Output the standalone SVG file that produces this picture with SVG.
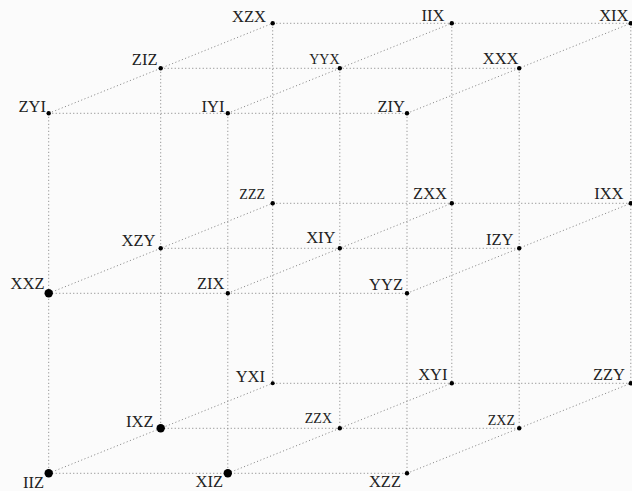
<svg xmlns="http://www.w3.org/2000/svg" width="632" height="491" viewBox="0 0 632 491">
<style>
.c{fill:none;stroke:#8a8a8a;stroke-width:1;stroke-dasharray:1.1 2.4}
.d{fill:#000}
text{font-family:"Liberation Serif","Times New Roman",serif;font-size:16.5px;fill:#222;text-anchor:end}
text.s{font-size:14px}
</style>
<rect width="632" height="491" fill="#fbfbfb"/>
<g id="connectors">
<path class="c" d="M48.7 113.3H407M48.7 293.3H407M48.7 473.3H407"/>
<path class="c" d="M160.7 68.3H519.2M160.7 248.3H519.2M160.7 428.3H519.2"/>
<path class="c" d="M272.7 23.3H630.8M272.7 203.3H630.8M272.7 383.3H630.8"/>
<path class="c" d="M48.7 113.3V473.3M227.8 113.3V473.3M407 113.3V473.3"/>
<path class="c" d="M160.7 68.3V428.3M339.8 68.3V428.3M519.2 68.3V428.3"/>
<path class="c" d="M272.7 23.3V383.3M451.8 23.3V383.3M630.8 23.3V383.3"/>
<path class="c" d="M48.7 113.3L272.7 23.3M227.8 113.3L451.8 23.3M407 113.3L630.8 23.3"/>
<path class="c" d="M48.7 293.3L272.7 203.3M227.8 293.3L451.8 203.3M407 293.3L630.8 203.3"/>
<path class="c" d="M48.7 473.3L272.7 383.3M227.8 473.3L451.8 383.3M407 473.3L630.8 383.3"/>
</g>
<g id="ZYI"><circle class="d" cx="48.7" cy="113.3" r="2.2"/><text x="46" y="111.7">ZYI</text></g>
<g id="IYI"><circle class="d" cx="227.8" cy="113.3" r="2.2"/><text x="224.5" y="111.7">IYI</text></g>
<g id="ZIY"><circle class="d" cx="407" cy="113.3" r="2.2"/><text x="405" y="111.7">ZIY</text></g>
<g id="XXZ"><circle class="d" cx="48.7" cy="293.3" r="4.2"/><text x="44.5" y="289.3">XXZ</text></g>
<g id="ZIX"><circle class="d" cx="227.8" cy="293.3" r="2.2"/><text x="224.5" y="289.3">ZIX</text></g>
<g id="YYZ"><circle class="d" cx="407" cy="293.3" r="2.2"/><text x="403" y="290">YYZ</text></g>
<g id="IIZ"><circle class="d" cx="48.7" cy="473.3" r="4.2"/><text x="44" y="488">IIZ</text></g>
<g id="XIZ"><circle class="d" cx="227.8" cy="473.3" r="4.2"/><text x="223" y="487.3">XIZ</text></g>
<g id="XZZ"><circle class="d" cx="407" cy="473.3" r="2.2"/><text x="401" y="487.3">XZZ</text></g>
<g id="ZIZ"><circle class="d" cx="160.7" cy="68.3" r="2.2"/><text x="157.5" y="65">ZIZ</text></g>
<g id="YYX"><circle class="d" cx="339.8" cy="68.3" r="2.2"/><text class="s" x="339.5" y="64">YYX</text></g>
<g id="XXX"><circle class="d" cx="519.2" cy="68.3" r="2.2"/><text x="518.5" y="64">XXX</text></g>
<g id="XZY"><circle class="d" cx="160.7" cy="248.3" r="2.2"/><text x="155.5" y="246">XZY</text></g>
<g id="XIY"><circle class="d" cx="339.8" cy="248.3" r="2.2"/><text x="335.5" y="243">XIY</text></g>
<g id="IZY"><circle class="d" cx="519.2" cy="248.3" r="2.2"/><text x="513.5" y="245">IZY</text></g>
<g id="IXZ"><circle class="d" cx="160.7" cy="428.3" r="4.2"/><text x="153.5" y="426.7">IXZ</text></g>
<g id="ZZX"><circle class="d" cx="339.8" cy="428.3" r="2.2"/><text class="s" x="332" y="423">ZZX</text></g>
<g id="ZXZ"><circle class="d" cx="519.2" cy="428.3" r="2.2"/><text class="s" x="515" y="425">ZXZ</text></g>
<g id="XZX"><circle class="d" cx="272.7" cy="23.3" r="2.2"/><text x="266" y="21.7">XZX</text></g>
<g id="IIX"><circle class="d" cx="451.8" cy="23.3" r="2.2"/><text x="444.5" y="21">IIX</text></g>
<g id="XIX"><circle class="d" cx="630.8" cy="23.3" r="2.2"/><text x="628.5" y="20.5">XIX</text></g>
<g id="ZZZ"><circle class="d" cx="272.7" cy="203.3" r="2.2"/><text class="s" x="265" y="199.3">ZZZ</text></g>
<g id="ZXX"><circle class="d" cx="451.8" cy="203.3" r="2.2"/><text x="447" y="199.3">ZXX</text></g>
<g id="IXX"><circle class="d" cx="630.8" cy="203.3" r="2.2"/><text x="623.5" y="199.3">IXX</text></g>
<g id="YXI"><circle class="d" cx="272.7" cy="383.3" r="2"/><text x="265" y="381.7">YXI</text></g>
<g id="XYI"><circle class="d" cx="451.8" cy="383.3" r="2.2"/><text x="447.5" y="380">XYI</text></g>
<g id="ZZY"><circle class="d" cx="630.8" cy="383.3" r="2.2"/><text x="625" y="380">ZZY</text></g>
</svg>
